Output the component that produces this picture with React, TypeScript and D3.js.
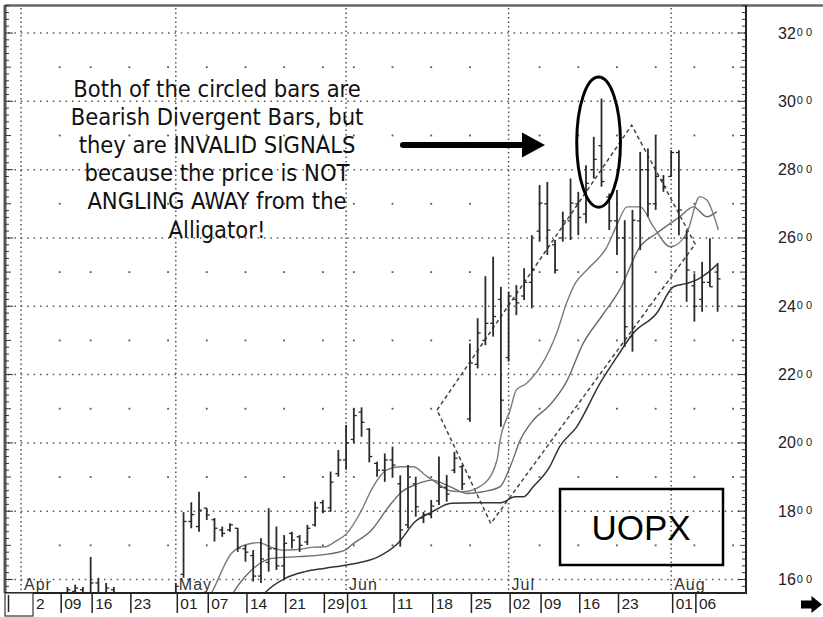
import React from "react";
import * as d3 from "d3";

// trading-day index 0 = Apr 2 (2001), one bar per trading day
const highs = [
  1540, 1530, 1535, 1545, 1550, 1545, 1578, 1585, 1578, 1666,
  1605, 1590, 1578, 1550, 1535, 1520, 1510, 1530, 1540, 1550,
  1590, 1797, 1826, 1857, 1809, 1780, 1755, 1765, 1751, 1701,
  1686, 1721, 1809, 1755, 1730, 1740, 1730, 1760, 1828, 1833,
  1916, 1979, 2052, 2101, 2104, 2043, 1945, 1969, 1989, 1905,
  1935, 1901, 1798, 1833, 1960, 1906, 1974, 1935, 2291, 2365,
  2488, 2545, 2457, 2442, 2462, 2511, 2608, 2755, 2764, 2594,
  2677, 2774, 2735, 2813, 2896, 3008, 2730, 2740, 2652, 2682,
  2852, 2862, 2901, 2784, 2857, 2857, 2623, 2496, 2530, 2599,
  2525,
];
const lows = [
  1470, 1460, 1480, 1490, 1495, 1480, 1510, 1520, 1515, 1530,
  1525, 1520, 1505, 1480, 1460, 1450, 1440, 1470, 1480, 1490,
  1520, 1605, 1750, 1740, 1774, 1711, 1725, 1740, 1681, 1652,
  1594, 1590, 1623, 1628, 1598, 1691, 1681, 1701, 1755, 1794,
  1798, 1901, 1921, 1999, 2018, 1943, 1901, 1886, 1901, 1696,
  1750, 1784, 1765, 1779, 1818, 1828, 1911, 1862, 2062, 2218,
  2286, 2311, 2047, 2238, 2374, 2418, 2394, 2589, 2550, 2496,
  2589, 2594, 2608, 2643, 2774, 2750, 2623, 2550, 2281, 2267,
  2564, 2662, 2682, 2735, 2779, 2608, 2413, 2355, 2384, 2457,
  2384,
];
const opens = [
  1520, 1490, 1505, 1520, 1530, 1510, 1535, 1565, 1570, 1560,
  1590, 1560, 1570, 1540, 1500, 1480, 1470, 1490, 1510, 1525,
  1540, 1615, 1770, 1755, 1809, 1775, 1745, 1745, 1750, 1690,
  1670, 1610, 1650, 1690, 1640, 1735, 1725, 1710, 1760, 1825,
  1810, 1910, 1950, 2010, 2090, 2040, 1940, 1920, 1950, 1880,
  1760, 1880, 1780, 1790, 1830, 1870, 1920, 1930, 2070, 2230,
  2300, 2350, 2420, 2250, 2420, 2430, 2470, 2620, 2700, 2580,
  2600, 2650, 2700, 2670, 2800, 2870, 2720, 2650, 2600, 2311,
  2650, 2800, 2700, 2770, 2780, 2850, 2600, 2460, 2420, 2470,
  2500,
];
const closes = [
  1490, 1510, 1520, 1530, 1510, 1535, 1570, 1575, 1560, 1590,
  1560, 1575, 1540, 1500, 1480, 1470, 1490, 1510, 1525, 1540,
  1580, 1770, 1790, 1803, 1789, 1750, 1735, 1760, 1692, 1680,
  1610, 1660, 1690, 1640, 1706, 1715, 1700, 1750, 1810, 1800,
  1885, 1950, 2000, 2080, 2060, 1960, 1920, 1950, 1935, 1745,
  1900, 1813, 1790, 1815, 1870, 1850, 1955, 1880, 2234, 2322,
  2350, 2370, 2125, 2430, 2410, 2470, 2506, 2702, 2623, 2506,
  2650, 2702, 2660, 2760, 2830, 2765, 2650, 2600, 2340, 2652,
  2800, 2700, 2780, 2750, 2850, 2682, 2506, 2400, 2470, 2457,
  2480,
];

// Alligator lines (bar index, price)
const lipsIdx = [23.8, 24.6, 27.2, 29.4, 30.7, 32.4, 33.7, 35.8, 37.6, 39.3, 40.6, 42.1, 43.8, 45.5, 47.2, 49.0, 50.7, 52.2, 53.5, 55.6, 57.1, 59.9, 61.5, 61.9, 63.2, 64.0, 65.3, 67.1, 69.2, 70.5, 71.6, 73.1, 75.7, 76.9, 78.3, 80.0, 81.7, 83.9, 86.0, 87.7, 88.6, 90.1];
const lipsVal = [1530, 1560, 1677, 1704, 1708, 1694, 1686, 1688, 1694, 1696, 1711, 1735, 1794, 1872, 1920, 1930, 1930, 1906, 1886, 1859, 1857, 1882, 1950, 2008, 2096, 2155, 2174, 2223, 2321, 2410, 2467, 2506, 2574, 2633, 2691, 2691, 2633, 2574, 2613, 2721, 2711, 2623];
const teethIdx = [26.8, 27.4, 29.8, 32.4, 35.8, 38.9, 41.9, 42.7, 45.3, 47.5, 49.2, 50.9, 53.1, 55.4, 57.6, 59.7, 61.9, 63.2, 64.5, 66.2, 68.3, 70.5, 72.6, 75.0, 77.4, 80.0, 82.1, 85.1, 86.9, 88.6, 89.9];
const teethVal = [1535, 1560, 1628, 1662, 1667, 1672, 1686, 1701, 1745, 1813, 1857, 1877, 1891, 1872, 1852, 1857, 1872, 1930, 2008, 2067, 2110, 2180, 2290, 2370, 2450, 2575, 2613, 2662, 2691, 2662, 2677];
const jawIdx = [30.5, 31.5, 34.1, 36.7, 39.3, 41.9, 43.2, 46.2, 48.7, 50.9, 53.1, 55.6, 58.7, 62.1, 63.8, 64.9, 66.2, 68.3, 69.6, 71.8, 74.8, 77.0, 79.1, 82.1, 84.3, 86.0, 87.3, 88.6, 90.1];
const jawVal = [1530, 1560, 1603, 1623, 1633, 1642, 1647, 1667, 1706, 1769, 1798, 1823, 1825, 1825, 1842, 1842, 1872, 1930, 1989, 2047, 2174, 2252, 2321, 2379, 2457, 2467, 2477, 2496, 2526];

// dashed channel corners (bar index, price)
const channelIdx = [53.75, 78.9, 87.1, 60.7];
const channelVal = [2096, 2930, 2582, 1764];

// circled bars (bar index range, price range)
const circleIdx = [71.8, 77.45];
const circleVal = [2690, 3071];
// arrow (bar index, price)
const arrowIdx = [49.35, 67.7];
const arrowVal = 2872;

const monthNames = ["Apr", "May", "Jun", "Jul", "Aug"];
const monthStartIdx = [0, 20, 42, 63, 84];
const weekStartIdx = [5, 9, 14, 19, 24, 29, 34, 39, 43, 48, 53, 58, 67, 72, 77, 82, 87, 92];
const dateLabels = ["2", "09", "16", "23", "01", "07", "14", "21", "29", "01", "11", "18", "25", "02", "09", "16", "23", "01", "06"];
const dateLabelIdx = [0, 5, 9, 14, 20, 24, 29, 34, 39, 42, 48, 53, 58, 63, 67, 72, 77, 84, 87];
const priceTicks = [1600, 1800, 2000, 2200, 2400, 2600, 2800, 3000, 3200];
const halfTicks = [1700, 1900, 2100, 2300, 2500, 2700, 2900, 3100];

const noteLines = [
  "Both of the circled bars are",
  "Bearish Divergent Bars, but",
  "they are INVALID SIGNALS",
  "because the price is NOT",
  "ANGLING AWAY from the",
  "Alligator!",
];
const symbol = "UOPX";

export default function App() {
  const L = 5, R = 746, T = 6, B = 593;
  const x = d3.scaleLinear().domain([0, 90]).range([21, 717.6]);
  const y = d3.scaleLinear().domain([1600, 3200]).range([579.5, 33]);

  const mkLine = (idx: number[], val: number[]) =>
    d3
      .line<number>()
      .x((_, k) => x(idx[k]))
      .y((v) => y(v))
      .curve(d3.curveMonotoneX)(val) as string;

  const minorTicks = d3.range(1560, 3281, 20);
  const channelPath =
    "M" + channelIdx.map((c, k) => `${x(c)},${y(channelVal[k])}`).join("L") + "Z";

  const cx = (x(circleIdx[0]) + x(circleIdx[1])) / 2;
  const cy = (y(circleVal[0]) + y(circleVal[1])) / 2;
  const rx = (x(circleIdx[1]) - x(circleIdx[0])) / 2;
  const ry = (y(circleVal[0]) - y(circleVal[1])) / 2;

  const ax0 = x(arrowIdx[0]);
  const ax1 = x(arrowIdx[1]);
  const ay = y(arrowVal);

  const gridColor = "#555";
  const sans = "'Liberation Sans', Arial, sans-serif";

  return (
    <div style={{ position: "fixed", left: 0, top: 0, width: 823, height: 617, background: "#fff" }}>
      <svg width={823} height={617} style={{ display: "block" }}>
        <defs>
          <clipPath id="plot">
            <rect x={L + 1} y={T} width={R - L - 1} height={B - T} />
          </clipPath>
        </defs>
        <rect x={0} y={0} width={823} height={617} fill="#fff" />

        {/* horizontal dotted gridlines */}
        {priceTicks.map((v) => (
          <line key={"h" + v} x1={L + 3} x2={R} y1={y(v)} y2={y(v)} stroke={gridColor} strokeWidth={1.5} strokeDasharray="1.5 4.9" />
        ))}
        {/* vertical dotted month gridlines */}
        {monthStartIdx.map((m) => (
          <line key={"v" + m} x1={x(m)} x2={x(m)} y1={T + 2} y2={B} stroke={gridColor} strokeWidth={1.5} strokeDasharray="1.5 3" />
        ))}
        {/* weekly dots at half levels */}
        {weekStartIdx.map((w) =>
          halfTicks.map((v) => (
            <rect key={"d" + w + "-" + v} x={x(w) - 0.9} y={y(v) - 0.9} width={1.8} height={1.8} fill={gridColor} />
          ))
        )}

        <g clipPath="url(#plot)">
          {/* dashed channel */}
          <path d={channelPath} fill="none" stroke="#444" strokeWidth={1.5} strokeDasharray="4 3" />
          {/* alligator */}
          <path d={mkLine(jawIdx, jawVal)} fill="none" stroke="#333" strokeWidth={1.5} />
          <path d={mkLine(teethIdx, teethVal)} fill="none" stroke="#6a6a6a" strokeWidth={1.4} />
          <path d={mkLine(lipsIdx, lipsVal)} fill="none" stroke="#7a7a7a" strokeWidth={1.4} />
          {/* OHLC bars */}
          {highs.map((h, i) => {
            const xi = x(i);
            return (
              <g key={"b" + i} stroke="#2a2a2a">
                <line x1={xi} x2={xi} y1={y(h)} y2={y(lows[i])} strokeWidth={1.8} />
                <line x1={xi - 3} x2={xi} y1={y(opens[i])} y2={y(opens[i])} strokeWidth={1.3} />
                <line x1={xi} x2={xi + 3} y1={y(closes[i])} y2={y(closes[i])} strokeWidth={1.3} />
              </g>
            );
          })}
        </g>

        {/* month labels */}
        {monthNames.map((m, k) => (
          <text key={"m" + m} x={x(monthStartIdx[k]) + 3} y={589.5} fontFamily={sans} fontSize={16} letterSpacing={1} fill="#333">
            {m}
          </text>
        ))}

        {/* annotation */}
        {noteLines.map((t, k) => (
          <text
            key={"n" + k}
            x={217}
            y={96.5 + k * 28.2}
            textAnchor="middle"
            fontFamily="'DejaVu Sans Condensed', 'Liberation Sans', sans-serif"
            fontSize={23.5}
            fill="#111"
          >
            {t}
          </text>
        ))}
        {/* arrow */}
        <line x1={ax0} x2={ax1 - 20} y1={ay} y2={ay} stroke="#000" strokeWidth={6} strokeLinecap="round" />
        <path d={`M${ax1 - 23},${ay - 12.5}L${ax1},${ay}L${ax1 - 23},${ay + 12.5}Z`} fill="#000" />
        {/* circle around bars */}
        <ellipse cx={cx} cy={cy} rx={rx} ry={ry} fill="none" stroke="#000" strokeWidth={3} />

        {/* symbol box */}
        <rect x={560} y={489} width={163} height={76} fill="none" stroke="#000" strokeWidth={2.5} />
        <text x={641} y={540} textAnchor="middle" fontFamily={sans} fontSize={35} fill="#000">
          {symbol}
        </text>

        {/* frame */}
        <line x1={L} x2={823} y1={T - 0.5} y2={T - 0.5} stroke="#666" strokeWidth={2.5} />
        <line x1={L} x2={L} y1={T - 1} y2={B} stroke="#555" strokeWidth={3} />
        <line x1={R} x2={R} y1={T - 1} y2={B + 1} stroke="#222" strokeWidth={2} />
        <line x1={L} x2={R + 1} y1={B} y2={B} stroke="#222" strokeWidth={2} />
        {/* side ticks */}
        {minorTicks.map((v) => {
          const len = v % 200 === 0 ? 8 : v % 100 === 0 ? 6 : 4;
          return (
            <g key={"t" + v} stroke="#333" strokeWidth={1}>
              <line x1={R - len} x2={R} y1={y(v)} y2={y(v)} />
              <line x1={L} x2={L + len} y1={y(v)} y2={y(v)} />
            </g>
          );
        })}

        {/* price labels */}
        {priceTicks.map((v) => (
          <text key={"p" + v} x={778} y={y(v) + 5.5} fontFamily={sans} fontSize={16} fill="#222">
            {String(v / 100)}
            <tspan fontSize={11} dy={-2.5} dx={1} letterSpacing={3}>00</tspan>
          </text>
        ))}

        {/* date axis */}
        {dateLabels.map((lab, k) => {
          if (k === 0) {
            return (
              <g key={"dl" + k}>
                <rect x={L} y={B} width={28} height={23} fill="#fff" stroke="#333" strokeWidth={1.2} />
                <line x1={L + 3.5} x2={L + 3.5} y1={B + 2} y2={B + 19} stroke="#222" strokeWidth={1.5} />
                <text x={L + 31} y={609} fontFamily={sans} fontSize={15.5} fill="#222">{lab}</text>
              </g>
            );
          }
          const tx = x(dateLabelIdx[k]) + 1.5;
          return (
            <g key={"dl" + k}>
              <line x1={tx} x2={tx} y1={B} y2={613} stroke="#222" strokeWidth={1.5} />
              <text x={tx + 3} y={609} fontFamily={sans} fontSize={15.5} fill="#222">{lab}</text>
            </g>
          );
        })}
        {/* scroll arrow */}
        <path d="M801,600.5L811.5,600.5L811.5,596L822,604.5L811.5,613L811.5,608.5L801,608.5Z" fill="#000" />
      </svg>
    </div>
  );
}
